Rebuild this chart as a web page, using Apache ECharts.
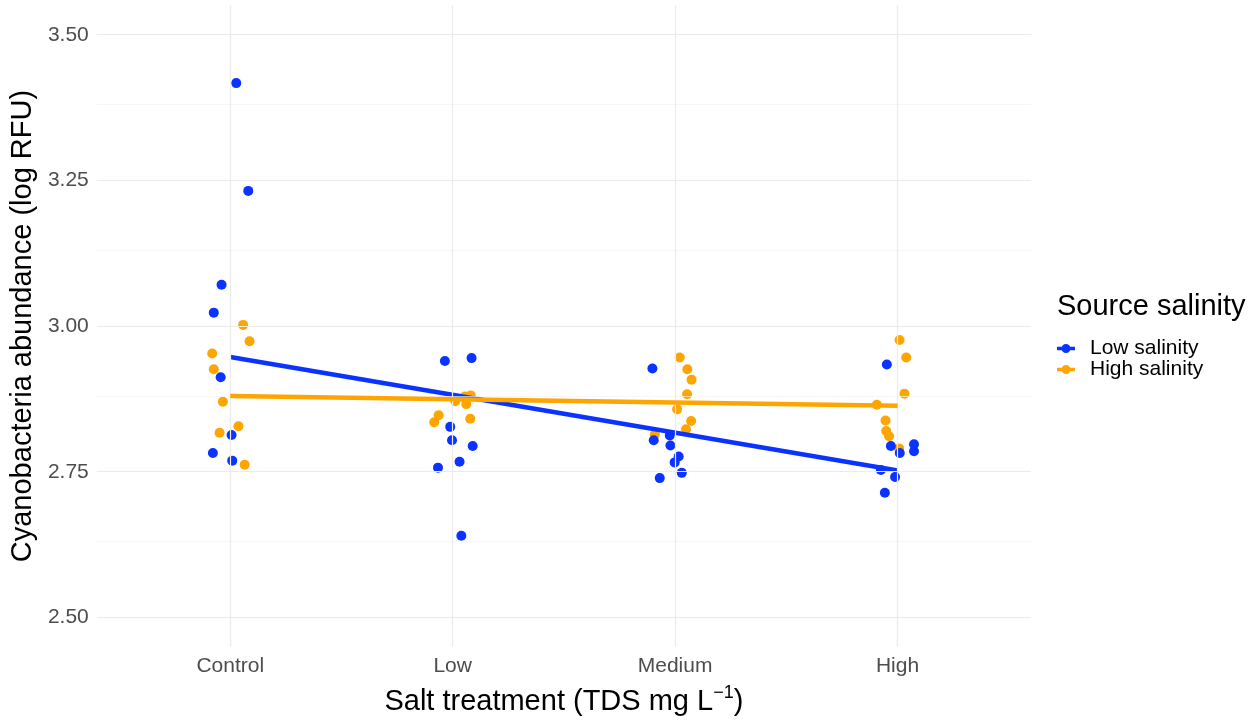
<!DOCTYPE html>
<html><head><meta charset="utf-8">
<script src="https://cdn.jsdelivr.net/npm/echarts@6.0.0/dist/echarts.min.js"></script>
<style>html,body{margin:0;padding:0;background:#fff}#c{width:1253px;height:721px}</style>
</head><body><div id="c"></div>
<script>
// Categories on the x axis (positions 1..4)
const categories = ['Control', 'Low', 'Medium', 'High'];
const catPos = [1, 2, 3, 4];
const yTicks = [2.5, 2.75, 3.0, 3.25, 3.5];
const yMinor = [2.625, 2.875, 3.125, 3.375];

// Low source salinity (blue) – jittered x, y values
const lowX = [1.027, 1.081, 0.961, 0.926, 0.957, 1.006, 0.922, 1.009,
              1.965, 2.085, 1.989, 1.997, 2.090, 2.031, 1.934, 2.039,
              2.898, 2.976, 2.904, 2.979, 3.016, 2.998, 3.030, 2.931,
              3.952, 4.074, 3.970, 4.074, 4.010, 3.925, 3.989, 3.943];
const lowY = [3.417, 3.232, 3.071, 3.023, 2.912, 2.813, 2.782, 2.769,
              2.940, 2.945, 2.827, 2.804, 2.794, 2.767, 2.757, 2.640,
              2.927, 2.812, 2.804, 2.795, 2.776, 2.766, 2.748, 2.739,
              2.934, 2.797, 2.794, 2.785, 2.782, 2.753, 2.741, 2.714];

// High source salinity (orange)
const highX = [1.058, 1.087, 0.919, 0.926, 0.967, 1.037, 0.952, 1.065,
               2.081, 2.012, 2.061, 1.937, 1.917, 2.079, 2.055,
               3.021, 3.055, 3.074, 3.054, 3.009, 3.072, 3.049, 2.909,
               4.009, 4.039, 4.031, 3.907, 3.946, 3.949, 3.962, 4.007];
const highY = [3.002, 2.974, 2.953, 2.926, 2.870, 2.828, 2.817, 2.762,
               2.881, 2.871, 2.866, 2.847, 2.835, 2.841, 2.879,
               2.946, 2.926, 2.908, 2.883, 2.857, 2.837, 2.823, 2.814,
               2.976, 2.946, 2.884, 2.865, 2.838, 2.820, 2.811, 2.790];

// Linear fits (endpoints at Control and High)
const fitX = [1, 4];
const fitLowY = [2.947, 2.752];
const fitHighY = [2.880, 2.863];

const seriesNames = ['Low salinity', 'High salinity'];
const colors = ['#0a33ff', '#ffa500'];
const FONT = '"Liberation Sans", Arial, Helvetica, sans-serif';
const KEY_ICON = 'path://M0,3.2L18,3.2L18,6.8L0,6.8Z M13.5,5A4.5,4.5 0 1,1 4.5,5A4.5,4.5 0 1,1 13.5,5Z';

const zip = (xs, ys) => xs.map((x, i) => [x, ys[i]]);

const chart = echarts.init(document.getElementById('c'), null, {renderer: 'canvas'});
chart.setOption({
  animation: false,
  backgroundColor: '#ffffff',
  textStyle: {fontFamily: FONT},
  grid: {left: 94, right: 222, top: 5.6, bottom: 68.6, containLabel: false},
  title: {
    text: 'Source salinity', left: 1052, top: 285,
    textStyle: {fontFamily: FONT, fontSize: 29, fontWeight: 'normal', color: '#000', lineHeight: 34}
  },
  legend: {
    data: seriesNames.map(n => ({name: n, icon: KEY_ICON})),
    orient: 'vertical', left: 1052, top: 333,
    itemWidth: 18, itemHeight: 10, itemGap: 0, selectedMode: false,
    textStyle: {fontFamily: FONT, fontSize: 21, color: '#000', lineHeight: 18, padding: [0, 0, 0, 10]}
  },
  xAxis: {
    type: 'value', min: 0.4, max: 4.6,
    name: '{t|Salt treatment (TDS mg L}{s|−1}{t|)}',
    nameLocation: 'middle', nameGap: 38,
    nameTextStyle: {
      rich: {
        t: {fontFamily: FONT, fontSize: 29, color: '#000', lineHeight: 34},
        s: {fontFamily: FONT, fontSize: 18, color: '#000', lineHeight: 18, verticalAlign: 'top'}
      }
    },
    axisLine: {show: false}, axisTick: {show: false}, splitLine: {show: false},
    axisLabel: {
      customValues: catPos, margin: 9,
      formatter: v => categories[Math.round(v) - 1] || '',
      color: '#4d4d4d', fontSize: 21, fontFamily: FONT
    }
  },
  yAxis: {
    type: 'value', min: 2.45, max: 3.55,
    name: 'Cyanobacteria abundance (log RFU)',
    nameLocation: 'middle', nameGap: 49,
    nameTextStyle: {fontFamily: FONT, fontSize: 29, color: '#000'},
    axisLine: {show: false}, axisTick: {show: false}, splitLine: {show: false},
    axisLabel: {
      customValues: yTicks, margin: 8,
      formatter: v => v.toFixed(2),
      color: '#4d4d4d', fontSize: 21, fontFamily: FONT
    }
  },
  series: [
    {
      name: 'grid', type: 'line', data: [], z: 0, silent: true,
      markLine: {
        silent: true, symbol: 'none', animation: false, label: {show: false},
        data: [
          ...yMinor.map(v => ({yAxis: v, lineStyle: {color: '#f3f3f3', width: 0.7, type: 'solid'}})),
          ...yTicks.map(v => ({yAxis: v, lineStyle: {color: '#ebebeb', width: 1.2, type: 'solid'}})),
          ...catPos.map(v => ({xAxis: v, lineStyle: {color: '#ebebeb', width: 1.2, type: 'solid'}}))
        ]
      }
    },
    {
      name: 'High salinity points', type: 'scatter', z: 2,
      data: zip(highX, highY), symbol: 'circle', symbolSize: 10,
      itemStyle: {color: colors[1], opacity: 1}
    },
    {
      name: 'Low salinity points', type: 'scatter', z: 3,
      data: zip(lowX, lowY), symbol: 'circle', symbolSize: 10,
      itemStyle: {color: colors[0], opacity: 1}
    },
    {
      name: seriesNames[0], type: 'line', z: 4,
      data: zip(fitX, fitLowY), showSymbol: false, symbol: 'circle', symbolSize: 9,
      lineStyle: {color: colors[0], width: 4.5}, itemStyle: {color: colors[0]}
    },
    {
      name: seriesNames[1], type: 'line', z: 5,
      data: zip(fitX, fitHighY), showSymbol: false, symbol: 'circle', symbolSize: 9,
      lineStyle: {color: colors[1], width: 4.5}, itemStyle: {color: colors[1]}
    }
  ]
});
</script>
</body></html>
